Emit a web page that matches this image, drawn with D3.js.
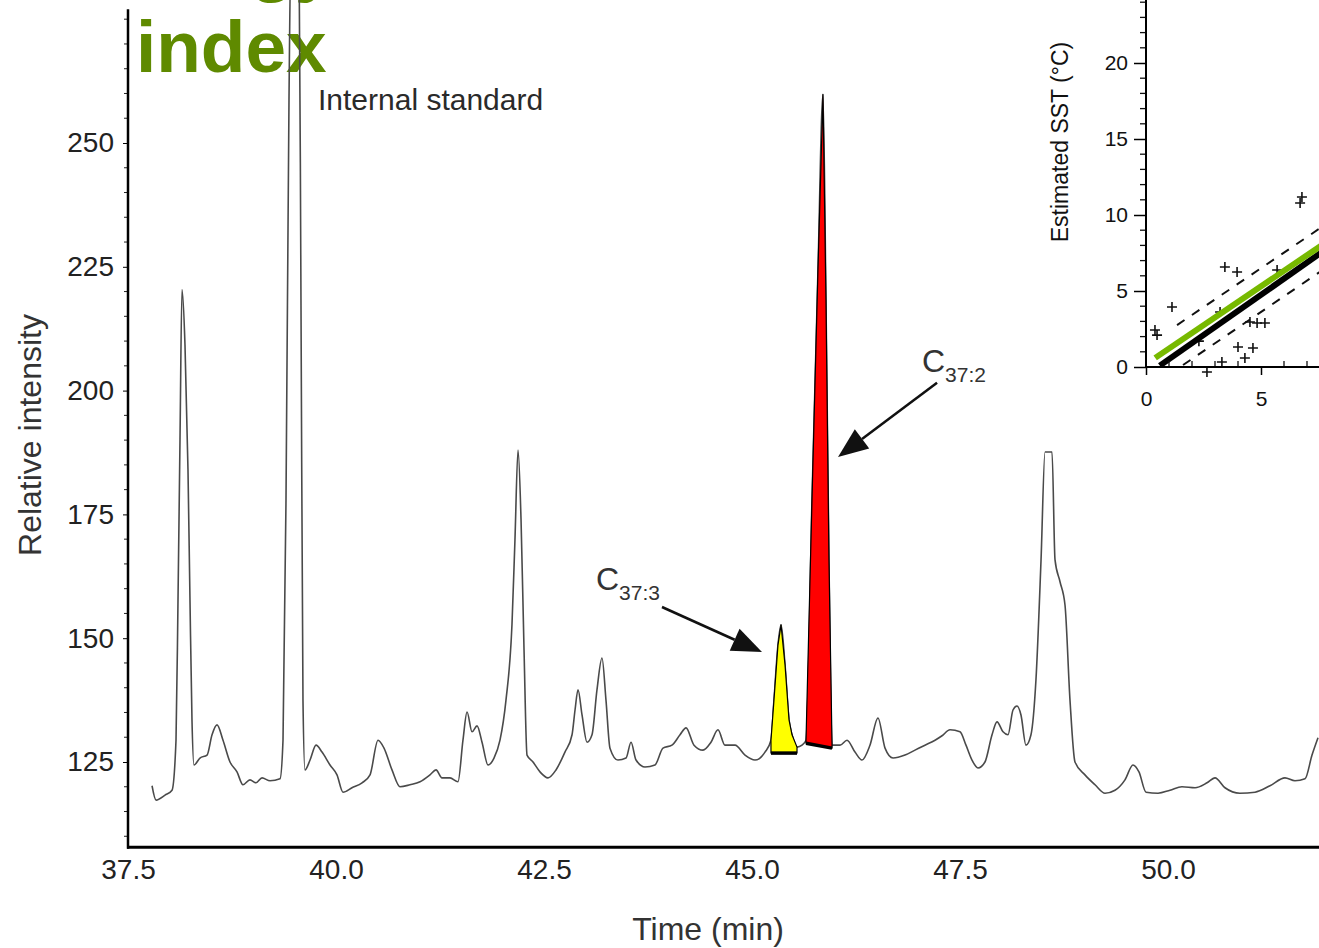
<!DOCTYPE html>
<html>
<head>
<meta charset="utf-8">
<script src="https://cdn.jsdelivr.net/npm/d3@7"></script>
<style>
	html, body { margin: 0; padding: 0; background: #fff; }
	svg { display: block; font-family: "Liberation Sans", Arial, sans-serif; }
</style>
</head>
<body>
<div id="chart"></div>
<script>
// Data

// chromatogram trace (time in min, relative intensity)
var traceTime = [37.789, 37.837, 37.945, 38.029, 38.077, 38.101, 38.125, 38.149, 38.185, 38.221,
	38.245, 38.269, 38.293, 38.365, 38.450, 38.510, 38.570, 38.642, 38.726, 38.810,
	38.882, 38.966, 39.038, 39.111, 39.207, 39.327, 39.363, 39.399, 39.435, 39.459,
	39.555, 39.579, 39.603, 39.627, 39.688, 39.760, 39.832, 39.928, 40.012, 40.084,
	40.192, 40.313, 40.409, 40.505, 40.577, 40.673, 40.769, 40.889, 41.010, 41.130,
	41.202, 41.274, 41.370, 41.466, 41.526, 41.575, 41.635, 41.695, 41.755, 41.827,
	41.899, 41.971, 42.043, 42.115, 42.151, 42.188, 42.224, 42.260, 42.296, 42.368,
	42.452, 42.548, 42.644, 42.752, 42.837, 42.873, 42.909, 42.957, 43.017, 43.077,
	43.137, 43.197, 43.245, 43.293, 43.389, 43.486, 43.546, 43.606, 43.714, 43.834,
	43.930, 44.038, 44.135, 44.207, 44.303, 44.411, 44.507, 44.591, 44.675, 44.796,
	44.916, 45.036, 45.156, 45.228, 45.264, 45.312, 45.349, 45.397, 45.445, 45.481,
	45.541, 45.601, 45.649, 45.721, 45.793, 45.853, 45.889, 45.925, 45.962, 46.058,
	46.142, 46.238, 46.322, 46.418, 46.514, 46.599, 46.695, 46.839, 46.959, 47.079,
	47.200, 47.284, 47.380, 47.500, 47.572, 47.644, 47.716, 47.800, 47.885, 47.945,
	48.017, 48.077, 48.137, 48.185, 48.233, 48.293, 48.353, 48.413, 48.474, 48.522,
	48.606, 48.642, 48.702, 48.762, 48.822, 48.882, 49.002, 49.123, 49.243, 49.363,
	49.483, 49.579, 49.651, 49.736, 49.880, 50.024, 50.168, 50.325, 50.469, 50.565,
	50.685, 50.865, 51.046, 51.226, 51.406, 51.526, 51.647, 51.731, 51.803];

var traceIntensity = [120.2, 117.3, 118.3, 119.3, 129.4, 157.7, 190.1, 220.4, 209.2, 184.0,
	157.7, 133.5, 124.4, 125.8, 126.4, 130.5, 132.5, 129.4, 125.0, 123.0,
	120.4, 121.4, 120.8, 121.8, 121.2, 121.6, 129.4, 177.9, 258.7, 290.0,
	290.0, 218.3, 137.5, 123.4, 125.4, 128.4, 127.0, 124.4, 122.4, 118.9,
	119.8, 120.8, 122.4, 129.4, 127.8, 123.4, 120.0, 120.4, 121.0, 122.4,
	123.4, 121.8, 121.8, 121.0, 129.4, 135.1, 131.1, 132.3, 129.0, 124.4,
	125.8, 129.4, 137.5, 152.7, 169.9, 188.0, 173.9, 147.6, 126.4, 125.0,
	123.0, 121.8, 123.4, 127.0, 130.5, 135.5, 139.6, 134.5, 129.0, 130.5,
	139.6, 146.0, 137.5, 127.8, 125.4, 125.8, 129.0, 125.4, 124.0, 124.4,
	127.8, 128.4, 130.5, 131.9, 128.4, 127.4, 129.0, 131.5, 128.4, 128.4,
	126.4, 125.4, 127.0, 129.4, 137.5, 148.6, 152.7, 144.6, 133.5, 130.5,
	128.0, 128.4, 129.4, 177.9, 224.4, 259.8, 218.3, 165.8, 128.4, 128.4,
	129.4, 127.0, 125.4, 128.4, 133.9, 127.8, 125.8, 126.4, 127.4, 128.4,
	129.4, 130.3, 131.5, 131.1, 128.4, 125.4, 123.8, 125.0, 130.5, 133.1,
	131.1, 130.5, 135.5, 136.3, 134.5, 128.4, 130.5, 141.6, 165.8, 187.6,
	187.6, 165.8, 161.4, 156.7, 137.5, 125.0, 122.4, 120.4, 118.7, 119.3,
	121.4, 124.4, 123.0, 118.9, 118.7, 119.3, 120.0, 119.8, 120.8, 121.8,
	119.8, 118.7, 118.9, 120.2, 121.8, 121.2, 121.6, 126.4, 129.9];

// shaded alkenone peaks: time window and baseline intensity at each end
var peakNames = ['C37:3', 'C37:2'];
var peakStart = [45.228, 45.649];
var peakEnd = [45.541, 45.962];
var peakBaseStart = [126.8, 128.8];
var peakBaseEnd = [126.8, 127.8];

// annotations (data units)
var arrowFrom = [[43.918, 156.3], [47.224, 201.6]];
var arrowTo = [[45.120, 147.2], [46.034, 186.6]];
var labelAt = [[43.125, 159.8], [47.043, 203.8]];
var labelSub = ['37:3', '37:2'];
var internalStdAt = [39.784, 256.7];

var xTicks = [37.5, 40.0, 42.5, 45.0, 47.5, 50.0];
var yTicks = [125, 150, 175, 200, 225, 250];

// inset: estimated SST against measured SST
var sstMeasured = [0.39, 0.48, 1.13, 2.65, 3.30, 3.22, 3.43, 3.96, 4.00, 4.30, 4.65, 4.52, 4.83, 5.17, 5.70, 6.78, 6.70, 2.30];
var sstEstimated = [2.43, 2.10, 3.95, -0.33, 0.33, 3.62, 6.58, 6.25, 1.32, 0.59, 1.25, 2.96, 2.89, 2.89, 6.38, 11.18, 10.79, 1.70];
var insetXTicks = [0, 5];
var insetYTicks = [0, 5, 10, 15, 20];
var fitGreen = [[0.4, 0.6], [9, 9.4]];
var fitBlack = [[0.6, 0.09], [9, 8.99]];
var bandUpper = [[1.35, 2.76], [9, 10.6]];
var bandLower = [[1.61, 0.13], [9, 7.74]];


// Setup

var W = 1319, H = 948;
var svg = d3.select('#chart').append('svg').attr('width', W).attr('height', H);

var x = d3.scaleLinear().domain([37.5, 50]).range([128, 1168]);
var y = d3.scaleLinear().domain([125, 250]).range([762, 143]);
var yBottom = y(107.8);
var yTop = y(277);

var trace = traceTime.map((t, i) => [t, traceIntensity[i]]);


// Title (upper line is cut by the top edge in the original)

var green = '#5f8a00';
svg.append('text').attr('x', 335).attr('y', -12).attr('text-anchor', 'end')
	.attr('font-size', 73).attr('font-weight', 'bold').attr('fill', green).text('Methodology');
svg.append('text').attr('x', 136).attr('y', 72)
	.attr('font-size', 73).attr('font-weight', 'bold').attr('fill', green).text('index');


// Main trace

var smooth = d3.line().curve(d3.curveMonotoneX).x(d => x(d[0])).y(d => y(d[1]));
var straight = d3.line().x(d => x(d[0])).y(d => y(d[1]));

svg.append('path').datum(trace)
	.attr('d', smooth)
	.attr('fill', 'none')
	.attr('stroke', '#4a4a4a')
	.attr('stroke-width', 1.6)
	.attr('stroke-linejoin', 'round');

var peakColours = ['#ffff00', '#ff0000'];
peakNames.forEach((name, i) => {
	let pts = trace.filter(d => d[0] >= peakStart[i] && d[0] <= peakEnd[i]);
	let poly = [[peakStart[i], peakBaseStart[i]]].concat(pts, [[peakEnd[i], peakBaseEnd[i]]]);
	svg.append('path')
		.attr('d', straight(poly) + 'Z')
		.attr('fill', peakColours[i])
		.attr('stroke', '#000')
		.attr('stroke-width', 1.2)
		.attr('stroke-linejoin', 'round');
	svg.append('line')
		.attr('x1', x(peakStart[i])).attr('y1', y(peakBaseStart[i]))
		.attr('x2', x(peakEnd[i])).attr('y2', y(peakBaseEnd[i]))
		.attr('stroke', '#000').attr('stroke-width', 3.5);
});

// Arrows + labels
arrowFrom.forEach((from, i) => {
	let x1 = x(from[0]), y1 = y(from[1]);
	let x2 = x(arrowTo[i][0]), y2 = y(arrowTo[i][1]);
	let ang = Math.atan2(y2 - y1, x2 - x1);
	let len = 30, half = 12;
	let bx = x2 - len * Math.cos(ang), by = y2 - len * Math.sin(ang);
	svg.append('line').attr('x1', x1).attr('y1', y1).attr('x2', bx).attr('y2', by)
		.attr('stroke', '#111').attr('stroke-width', 2.5);
	let px = -Math.sin(ang) * half, py = Math.cos(ang) * half;
	svg.append('path')
		.attr('d', `M${x2},${y2}L${bx + px},${by + py}L${bx - px},${by - py}Z`)
		.attr('fill', '#111');

	let t = svg.append('text').attr('x', x(labelAt[i][0])).attr('y', y(labelAt[i][1]))
		.attr('fill', '#333').attr('font-size', 32);
	t.append('tspan').text('C');
	t.append('tspan').attr('font-size', 21).attr('dy', 10).text(labelSub[i]);
});

svg.append('text')
	.attr('x', x(internalStdAt[0])).attr('y', y(internalStdAt[1]))
	.attr('font-size', 30).attr('fill', '#2a2a2a')
	.text('Internal standard');


// Main axes

var minorY = d3.range(110, 276, 5).filter(v => yTicks.indexOf(v) < 0);
svg.append('g').selectAll('line').data(minorY).enter().append('line')
	.attr('x1', 124).attr('x2', 128)
	.attr('y1', d => y(d)).attr('y2', d => y(d))
	.attr('stroke', '#222').attr('stroke-width', 1);

var yAxis = svg.append('g').attr('transform', 'translate(128,0)')
	.call(d3.axisLeft(y).tickValues(yTicks).tickSize(5).tickPadding(9).tickFormat(d3.format('d')));
yAxis.select('.domain').remove();
yAxis.selectAll('text').attr('font-size', 28).attr('fill', '#222').attr('font-family', null);

svg.append('line').attr('x1', 128).attr('x2', 128).attr('y1', yTop).attr('y2', yBottom + 1.5)
	.attr('stroke', '#000').attr('stroke-width', 2.5);

var xAxis = svg.append('g').attr('transform', `translate(0,${yBottom})`)
	.call(d3.axisBottom(x).tickValues(xTicks).tickSize(0).tickPadding(12).tickFormat(d3.format('.1f')));
xAxis.select('.domain').remove();
xAxis.selectAll('text').attr('font-size', 28).attr('fill', '#222').attr('font-family', null);

svg.append('line').attr('x1', 127).attr('x2', W).attr('y1', yBottom).attr('y2', yBottom)
	.attr('stroke', '#000').attr('stroke-width', 3);

svg.append('text')
	.attr('transform', `translate(41,435) rotate(-90)`)
	.attr('text-anchor', 'middle').attr('font-size', 32).attr('fill', '#333')
	.text('Relative intensity');

svg.append('text')
	.attr('x', 708).attr('y', 940)
	.attr('text-anchor', 'middle').attr('font-size', 32).attr('fill', '#333')
	.text('Time (min)');


// Inset

var ix = d3.scaleLinear().domain([0, 5]).range([1146, 1261]);
var iy = d3.scaleLinear().domain([0, 20]).range([367, 63]);
var inset = svg.append('g');

var iline = d3.line().x(d => ix(d[0])).y(d => iy(d[1]));

inset.append('path').datum(bandUpper).attr('d', iline)
	.attr('stroke', '#111').attr('stroke-width', 2).attr('stroke-dasharray', '9,9').attr('fill', 'none');
inset.append('path').datum(bandLower).attr('d', iline)
	.attr('stroke', '#111').attr('stroke-width', 2).attr('stroke-dasharray', '9,9').attr('fill', 'none');

inset.selectAll('.pt').data(sstMeasured).enter().append('path')
	.attr('class', 'pt')
	.attr('transform', (d, i) => `translate(${ix(d)},${iy(sstEstimated[i])})`)
	.attr('d', 'M-5,0H5M0,-5V5')
	.attr('stroke', '#111').attr('stroke-width', 1.6).attr('fill', 'none');

inset.append('path').datum(fitBlack).attr('d', iline)
	.attr('stroke', '#000').attr('stroke-width', 6).attr('fill', 'none');
inset.append('path').datum(fitGreen).attr('d', iline)
	.attr('stroke', '#77b900').attr('stroke-width', 6).attr('fill', 'none');

var iMinorY = d3.range(0, 25, 1).filter(v => v % 5 !== 0);
inset.selectAll('.iym').data(iMinorY).enter().append('line')
	.attr('x1', 1140).attr('x2', 1146)
	.attr('y1', d => iy(d)).attr('y2', d => iy(d))
	.attr('stroke', '#111').attr('stroke-width', 1.3);

var iyAxis = inset.append('g').attr('transform', 'translate(1146,0)')
	.call(d3.axisLeft(iy).tickValues(insetYTicks).tickSize(12).tickPadding(6).tickFormat(d3.format('d')));
iyAxis.select('.domain').remove();
iyAxis.selectAll('line').attr('stroke-width', 1.5);
iyAxis.selectAll('text').attr('font-size', 21).attr('fill', '#111').attr('font-family', null);

var iMinorX = d3.range(1, 8, 1).filter(v => v % 5 !== 0);
inset.selectAll('.ixm').data(iMinorX).enter().append('line')
	.attr('x1', d => ix(d)).attr('x2', d => ix(d))
	.attr('y1', 361).attr('y2', 367)
	.attr('stroke', '#111').attr('stroke-width', 1.3);

var ixAxis = inset.append('g').attr('transform', 'translate(0,367)')
	.call(d3.axisBottom(ix).tickValues(insetXTicks).tickSize(8).tickPadding(16).tickFormat(d3.format('d')));
ixAxis.select('.domain').remove();
ixAxis.selectAll('line').attr('stroke-width', 1.5);
ixAxis.selectAll('text').attr('font-size', 21).attr('fill', '#111').attr('font-family', null);

inset.append('line').attr('x1', 1146).attr('x2', 1146).attr('y1', 0).attr('y2', 368)
	.attr('stroke', '#000').attr('stroke-width', 2);
inset.append('line').attr('x1', 1145).attr('x2', W).attr('y1', 367).attr('y2', 367)
	.attr('stroke', '#000').attr('stroke-width', 2);

inset.append('text')
	.attr('transform', 'translate(1068,142) rotate(-90)')
	.attr('text-anchor', 'middle').attr('font-size', 23).attr('fill', '#111')
	.text('Estimated SST (°C)');
</script>
</body>
</html>
